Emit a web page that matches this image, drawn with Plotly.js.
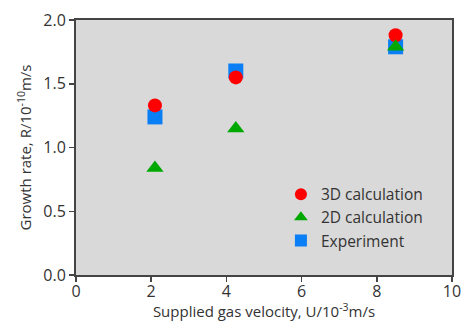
<!DOCTYPE html>
<html><head><meta charset="utf-8">
<script src="https://cdn.plot.ly/plotly-3.0.1.min.js"></script>
<style>body{margin:0;background:#fff}#c{width:461px;height:321px}</style>
</head><body><div id="c"></div>
<script>
const xVel = [2.1, 4.25, 8.5];
const calc3D = [1.33, 1.55, 1.88];
const calc2D = [0.84, 1.15, 1.79];
const experiment = [1.24, 1.60, 1.79];

const traces = [
  {x: xVel, y: experiment, name: 'Experiment', mode: 'markers', type: 'scatter', legendrank: 3,
   marker: {symbol: 'square', size: 15, color: '#0a7ff5'}},
  {x: xVel, y: calc3D, name: '3D calculation', mode: 'markers', type: 'scatter', legendrank: 1,
   marker: {symbol: 'circle', size: 14, color: '#ff0000'}},
  {x: xVel, y: calc2D, name: '2D calculation', mode: 'markers', type: 'scatter', legendrank: 2,
   marker: {symbol: 'triangle-up', size: 15, color: '#00a800'}}
];

const axisCommon = {
  showgrid: false, zeroline: false, showline: true, mirror: true,
  linecolor: '#444', linewidth: 2, ticks: 'outside', ticklen: 5, tickwidth: 1.5, tickcolor: '#444',
  tickfont: {size: 16, color: '#333'}, ticklabeloverflow: 'allow'
};

const layout = {
  width: 461, height: 321,
  margin: {l: 76, r: 9, t: 20, b: 46},
  paper_bgcolor: '#fff', plot_bgcolor: '#d9d9d9',
  font: {family: 'Open Sans, sans-serif', color: '#333'},
  showlegend: true,
  legend: {x: 0.545, y: 0.382, xanchor: 'left', yanchor: 'top', bgcolor: 'rgba(0,0,0,0)',
           font: {size: 15.5, color: '#333'}, tracegroupgap: 0, itemsizing: 'constant'},
  xaxis: Object.assign({}, axisCommon, {range: [0, 10], dtick: 2, tick0: 0, ticklabelstandoff: -4,
    title: {text: 'Supplied gas velocity, U/10<sup>-3</sup>m/s', font: {size: 15, color: '#333'}, standoff: 7}}),
  yaxis: Object.assign({}, axisCommon, {range: [0, 2], dtick: 0.5, tick0: 0, tickformat: '.1f',
    title: {text: 'Growth rate, R/10<sup>-10</sup>m/s', font: {size: 15, color: '#333'}, standoff: 8}})
};

Plotly.newPlot('c', traces, layout, {displayModeBar: false, staticPlot: true});
</script></body></html>
